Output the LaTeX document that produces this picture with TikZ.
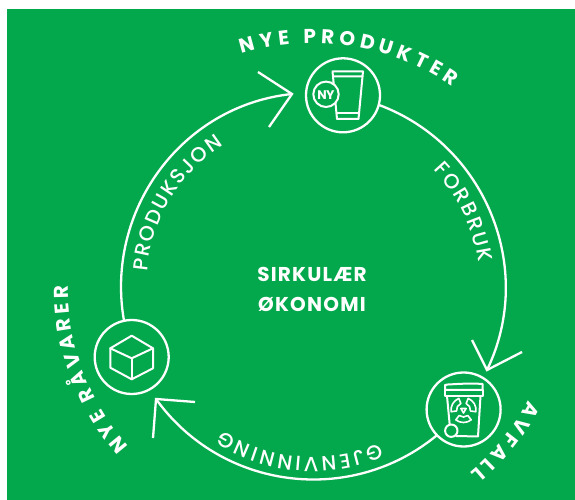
\documentclass[tikz,border=0pt]{standalone}
\usepackage{fontspec}
\usetikzlibrary{decorations.text}
\newfontfamily\labelfont{Poppins}
\newfontfamily\innerfont{Poppins Medium}
\definecolor{grn}{HTML}{04A84C}
\tikzset{
  x=1pt,y=1pt,
  hub/.style={circle,draw=white,fill=grn,line width=2.3pt,minimum size=74pt,inner sep=0pt,outer sep=0pt},
  conn/.style={draw=white,line width=2.3pt},
  head/.style={draw=white,line width=2.3pt,line cap=butt,line join=miter},
  icon/.style={draw=white,line width=2pt,line join=round,line cap=round},
  curveout/.style={decorate,decoration={text along path,text align={fit to path},text={|\fontsize{20}{21}\labelfont\bfseries\color{white}|#1}}},
  curvein/.style={decorate,decoration={text along path,text align={fit to path},text={|\fontsize{20.5}{21}\innerfont\color{white}|#1}}},
}
\begin{document}
\begin{tikzpicture}
\useasboundingbox (0,0) rectangle (575,500);
\fill[grn] (7,0) rectangle (575,491);
\coordinate (c) at (313,214);
\begin{scope}[shift={(0,500)},y=-1pt]
  \node[hub] (tube) at (343,95.3) {};
  \node[hub] (bin) at (463.6,409.5) {};
  \node[hub] (box) at (131.7,357) {};
  \coordinate (t1) at (292,94);
  \coordinate (t1a) at (258,72);
  \coordinate (t1b) at (269,127);
  \coordinate (t2) at (487,370);
  \coordinate (t2a) at (472,340);
  \coordinate (t2b) at (522,352);
  \coordinate (t3) at (156,399);
  \coordinate (t3a) at (195,402);
  \coordinate (t3b) at (153,438);
  % tube icon
  \draw[icon] (332.5,71.5) -- (363,71.5) -- (362.5,76.5) -- (333,76.5) -- cycle;
  \draw[icon] (333,76.5) -- (337,119) -- (358.5,119) -- (362.5,76.5);
  \draw[icon] (337,113.5) -- (359,113.5);
  \draw[icon,fill=grn] (326,94.3) circle[radius=12.7];
  \node[text=white,font=\fontsize{12.5}{12}\labelfont\bfseries,inner sep=0pt] (ny) at (326,94.8) {N\kern-0.6pt Y};
  % bin icon
  \draw[icon] (445,390) -- (445,385) -- (448,384.5) .. controls (458,384) and (470,383) .. (482.5,384) -- (482.5,390) -- cycle;
  \draw[icon] (445,390) -- (445,396) -- (482.5,396) -- (482.5,390);
  \draw[icon] (447,396) -- (450,428);
  \draw[icon] (480.5,396) -- (478,436.5) -- (456,436);
  \draw[icon,fill=grn] (451.3,430.7) circle[radius=6.2];
  \begin{scope}[shift={(463.5,410)}]
    \foreach \a in {30,150,270}{
      \draw[icon,line width=1.6pt,rotate=\a] (-38:12.5) arc[start angle=-38,end angle=38,radius=12.5] -- (38:7) arc[start angle=38,end angle=-38,radius=7] -- cycle;
    }
    \draw[icon,line width=1.6pt] (90:3) -- (210:3) -- (330:3) -- cycle;
  \end{scope}
  % cube icon
  \draw[icon] (131.7,335.7) -- (153,348.3) -- (153,368.3) -- (131.7,379.3) -- (110.3,367.7) -- (110.3,348.3) -- cycle;
  \draw[icon] (110.3,348.3) -- (131.7,358.3) -- (153,348.3);
  \draw[icon] (131.7,358.3) -- (131.7,379.3);
\end{scope}
% connectors
\draw[conn] (box.102) to[out=100,in=186,looseness=1.01] (t1);
\draw[conn] (tube.-15) to[out=-20.3,in=64.2,looseness=1.01] (t2);
\draw[conn] (bin.224) to[out=-140.5,in=-54.3,looseness=1.01] (t3);
\draw[head] (t1a) -- (t1) -- (t1b);
\draw[head] (t2a) -- (t2) -- (t2b);
\draw[head] (t3a) -- (t3) -- (t3b);
% curved labels
\path[curveout={NYE PRODUKTER}] (c) ++(107:243) arc[start angle=107,end angle=55,radius=243pt];
\path[curveout={AVFALL}] (c) ++(-28:244) arc[start angle=-28,end angle=-50,radius=244pt];
\path[curveout={NYE RÅVARER}] (c) ++(221:245) arc[start angle=221,end angle=180,radius=245pt];
\path[curvein={PRODUKSJON}] (c) ++(175:166.5) arc[start angle=175,end angle=122.5,radius=166.5pt];
\path[curvein={FORBRUK}] (c) ++(44:167) arc[start angle=44,end angle=8,radius=167pt];
\path[curvein={GJENVINNING}] (c) ++(-67:171) arc[start angle=-67,end angle=-122,radius=171pt];
\node[text=white,align=center,font=\fontsize{20}{30}\labelfont\bfseries\addfontfeature{LetterSpace=6}] (title) at (312,211) {SIRKULÆR\\ØKONOMI};
\end{tikzpicture}
\end{document}
